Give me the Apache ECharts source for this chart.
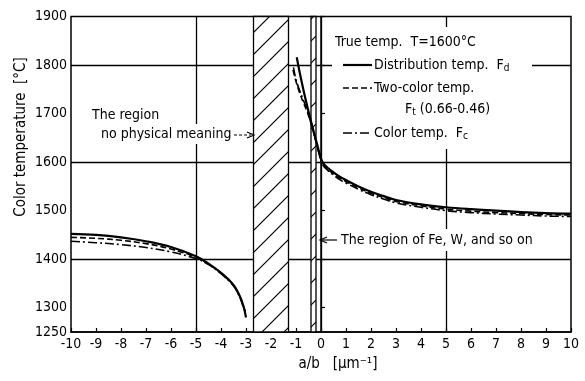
<!DOCTYPE html>
<html>
<head>
<meta charset="utf-8">
<script src="https://cdn.jsdelivr.net/npm/echarts@6/dist/echarts.min.js"></script>
<style>
  html, body { margin: 0; padding: 0; background: #fff; }
  #main { width: 585px; height: 381px; }
</style>
</head>
<body>
<div id="main"></div>
<script>
var FONT = "'DejaVu Sans Condensed', 'Liberation Sans Narrow', 'DejaVu Sans', sans-serif";

// left branch (a/b < -3)
var xLeft  = [-10, -9, -8, -7, -6, -5, -4.5, -4, -3.5, -3.25, -3.1, -3];
var fdLeft = [1452, 1450, 1445, 1437, 1425, 1406, 1391, 1372, 1347, 1324, 1303, 1280];
var ftLeft = [1445, 1443, 1439, 1432, 1421, 1404, 1390, 1371, 1346, 1323, 1302, 1286];
var fcLeft = [1437, 1434, 1430, 1424, 1415, 1401, 1389, 1370, 1345, 1322, 1301, 1290];

// right branch (a/b > -1.2), [a/b, temp]
var fdRight = [[-0.97, 1816], [-0.85, 1784], [-0.7, 1748], [-0.55, 1715], [-0.4, 1684], [-0.25, 1655],
  [-0.1, 1626], [0, 1607], [0.1, 1597], [0.25, 1589], [0.5, 1579], [0.75, 1570], [1, 1563], [1.5, 1550], [2, 1539],
  [2.5, 1530], [3, 1522], [4, 1513], [5, 1507], [6, 1503], [7, 1500], [8, 1497], [9, 1495], [10, 1494]];
var ftRight = [[-1.12, 1790], [-1, 1766], [-0.85, 1742], [-0.7, 1722], [-0.55, 1703], [-0.4, 1680], [-0.25, 1652],
  [-0.1, 1623], [0, 1604], [0.1, 1594], [0.25, 1586], [0.5, 1576], [0.75, 1567], [1, 1560], [1.5, 1547], [2, 1536],
  [2.5, 1527], [3, 1519], [4, 1510], [5, 1503], [6, 1499], [7, 1496], [8, 1494], [9, 1492], [10, 1491]];
var fcRight = [[-1.1, 1795], [-1, 1770], [-0.85, 1747], [-0.7, 1727], [-0.55, 1707], [-0.4, 1682], [-0.25, 1652],
  [-0.1, 1622], [0, 1603], [0.1, 1592], [0.25, 1584], [0.5, 1573], [0.75, 1564], [1, 1557], [1.5, 1544], [2, 1533],
  [2.5, 1524], [3, 1516], [4, 1507], [5, 1500], [6, 1496], [7, 1493], [8, 1491], [9, 1489], [10, 1488]];

var yLabels = [1250, 1300, 1400, 1500, 1600, 1700, 1800, 1900];
var yTicks = [1300, 1400, 1500, 1600, 1700, 1800, 1900];
var gridY = [1400, 1600, 1800];
var gridX = [-5, 0, 5];
var noMeaning = [-2.7, -1.3];
var feRegion = [-0.4, -0.2];

function pairs(xs, ys) {
  return xs.map(function (x, i) { return [x, ys[i]]; });
}

// diagonal hatch pattern
var hatch = document.createElement('canvas');
hatch.width = 22; hatch.height = 22;
var hc = hatch.getContext('2d');
hc.fillStyle = '#fff';
hc.fillRect(0, 0, 22, 22);
hc.strokeStyle = '#000';
hc.lineWidth = 1.2;
hc.beginPath();
hc.moveTo(-2, 24); hc.lineTo(24, -2);
hc.moveTo(-13, 13); hc.lineTo(13, -13);
hc.moveTo(9, 35); hc.lineTo(35, 9);
hc.stroke();

var solid = { color: '#000', width: 2.2, type: 'solid' };
var dashed = { color: '#000', width: 1.6, type: [6, 3] };
var dashDot = { color: '#000', width: 1.6, type: [9, 3, 2, 3] };

function curve(data, ls) {
  return { type: 'line', data: data, showSymbol: false, smooth: 0.4, z: 3, lineStyle: ls, silent: true };
}

var T14 = '14px ' + FONT;
var SUB = '10px ' + FONT;

var myChart = echarts.init(document.getElementById('main'));

var option = {
  animation: false,
  textStyle: { fontFamily: FONT, color: '#000' },
  grid: { left: 71, right: 14, top: 16.5, bottom: 49, show: true, borderColor: '#000', borderWidth: 1.5 },
  xAxis: {
    type: 'value', min: -10, max: 10, interval: 1,
    axisLine: { lineStyle: { color: '#000', width: 1.5 } },
    axisTick: { inside: true, length: 4, lineStyle: { color: '#000', width: 1.2 } },
    axisLabel: { color: '#000', fontSize: 14, margin: 5, fontFamily: FONT },
    splitLine: { show: false }
  },
  yAxis: {
    type: 'value', min: 1250, max: 1900, interval: 50,
    axisLine: { show: true, lineStyle: { color: '#000', width: 1.5 } },
    axisTick: { show: true, inside: true, length: 4, customValues: yTicks, lineStyle: { color: '#000', width: 1.2 } },
    axisLabel: { color: '#000', fontSize: 14, margin: 4, fontFamily: FONT, customValues: yLabels,
      formatter: function (v) { return String(v); } },
    splitLine: { show: false }
  },
  graphic: [
    { type: 'rect', z: 50, shape: { x: 332, y: 27, width: 200, height: 122 }, style: { fill: '#fff' } },
    { type: 'text', z: 100, x: 21, y: 137, rotation: Math.PI / 2,
      style: { text: 'Color temperature  [°C]', font: '15px ' + FONT, fill: '#000', align: 'center', verticalAlign: 'middle' } },
    { type: 'text', z: 100, x: 338, y: 364,
      style: { text: 'a/b   [μm⁻¹]', font: '15px ' + FONT, fill: '#000', align: 'center', verticalAlign: 'middle' } },
    // legend
    { type: 'text', z: 100, x: 335, y: 42,
      style: { text: 'True temp.  T=1600°C', font: T14, fill: '#000', verticalAlign: 'middle' } },
    { type: 'line', z: 100, shape: { x1: 343, y1: 65, x2: 372, y2: 65 }, style: { stroke: '#000', lineWidth: 2.2 } },
    { type: 'text', z: 100, x: 374, y: 65,
      style: { text: '{a|Distribution temp.  F}{s|d}', fill: '#000', verticalAlign: 'middle',
        rich: { a: { font: T14 }, s: { font: SUB, padding: [6, 0, 0, 0] } } } },
    { type: 'line', z: 100, shape: { x1: 343, y1: 88, x2: 372, y2: 88 }, style: { stroke: '#000', lineWidth: 1.6, lineDash: [6, 3] } },
    { type: 'text', z: 100, x: 374, y: 88,
      style: { text: 'Two-color temp.', font: T14, fill: '#000', verticalAlign: 'middle' } },
    { type: 'text', z: 100, x: 405, y: 109,
      style: { text: '{a|F}{s|t}{a| (0.66-0.46)}', fill: '#000', verticalAlign: 'middle',
        rich: { a: { font: T14 }, s: { font: SUB, padding: [6, 0, 0, 0] } } } },
    { type: 'line', z: 100, shape: { x1: 343, y1: 133, x2: 372, y2: 133 }, style: { stroke: '#000', lineWidth: 1.6, lineDash: [9, 3, 2, 3] } },
    { type: 'text', z: 100, x: 374, y: 133,
      style: { text: '{a|Color temp.  F}{s|c}', fill: '#000', verticalAlign: 'middle',
        rich: { a: { font: T14 }, s: { font: SUB, padding: [6, 0, 0, 0] } } } },
    // annotations
    { type: 'text', z: 100, x: 92, y: 115,
      style: { text: 'The region', font: T14, fill: '#000', verticalAlign: 'middle' } },
    { type: 'text', z: 100, x: 99, y: 134,
      style: { text: 'no physical meaning', font: T14, fill: '#000', verticalAlign: 'middle',
        backgroundColor: '#fff', padding: [3, 2] } },
    { type: 'line', z: 100, shape: { x1: 234, y1: 135, x2: 251, y2: 135 }, style: { stroke: '#000', lineWidth: 1.2, lineDash: [3, 2] } },
    { type: 'polyline', z: 100, shape: { points: [[247, 132], [254, 135], [247, 138]] }, style: { stroke: '#000', fill: null, lineWidth: 1.2 } },
    { type: 'text', z: 100, x: 339, y: 240,
      style: { text: 'The region of Fe, W, and so on', font: T14, fill: '#000', verticalAlign: 'middle',
        backgroundColor: '#fff', padding: [4, 2] } },
    { type: 'line', z: 100, shape: { x1: 322, y1: 240, x2: 337, y2: 240 }, style: { stroke: '#000', lineWidth: 1.2 } },
    { type: 'polyline', z: 100, shape: { points: [[327, 237], [320, 240], [327, 243]] }, style: { stroke: '#000', fill: null, lineWidth: 1.2 } }
  ],
  series: [
    {
      type: 'line', data: [], silent: true,
      markLine: {
        z: 1, silent: true, symbol: ['none', 'none'], label: { show: false },
        lineStyle: { color: '#000', width: 1.3, type: 'solid' },
        data: gridY.map(function (v) { return { yAxis: v }; }).concat(gridX.map(function (v) { return { xAxis: v }; }))
      },
      markArea: {
        z: 2, silent: true,
        itemStyle: { color: { image: hatch, repeat: 'repeat' }, borderColor: '#000', borderWidth: 1.3 },
        data: [
          [{ xAxis: noMeaning[0], yAxis: 1250 }, { xAxis: noMeaning[1], yAxis: 1900 }],
          [{ xAxis: feRegion[0], yAxis: 1250 }, { xAxis: feRegion[1], yAxis: 1900 }]
        ]
      }
    },
    curve(pairs(xLeft, fdLeft), solid),
    curve(pairs(xLeft, ftLeft), dashed),
    curve(pairs(xLeft, fcLeft), dashDot),
    curve(fdRight, solid),
    curve(ftRight, dashed),
    curve(fcRight, dashDot)
  ]
};

myChart.setOption(option);
</script>
</body>
</html>
